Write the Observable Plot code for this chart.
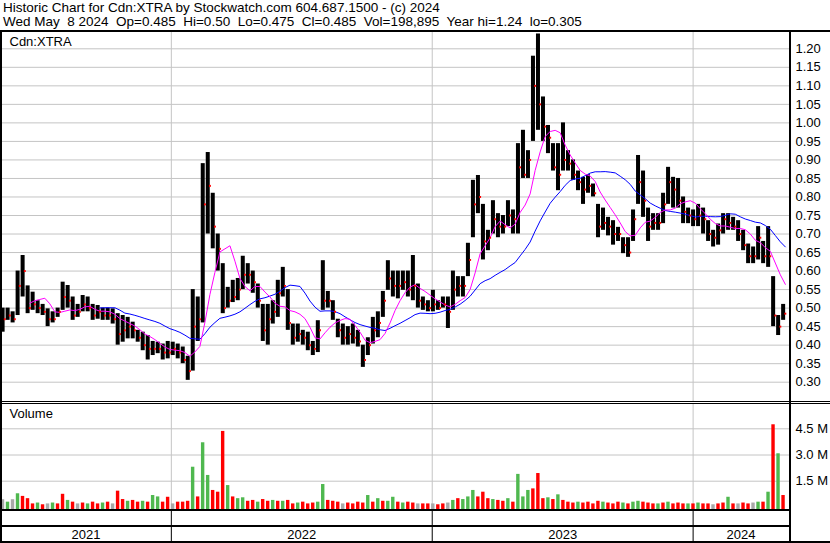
<!DOCTYPE html>
<html><head><meta charset="utf-8">
<script src="https://cdn.jsdelivr.net/npm/d3@7"></script>
<script src="https://cdn.jsdelivr.net/npm/@observablehq/plot@0.6"></script>
<style>
body{margin:0;background:#fff;}
#chart{position:relative;width:830px;height:543px;font-family:"Liberation Sans",Arial,sans-serif;color:#000;overflow:hidden;background:#fff}
.hdr{position:absolute;left:3px;font-size:13.5px;white-space:pre;line-height:14px}
.ln{position:absolute;background:#000}
.panel{position:absolute;left:0}
</style></head><body><div id="chart"></div>
<script>
// ---- data (weekly) ----
const firstWeek = "2021-05-07";
const xDomain = ["2021-05-07", "2024-05-14"];
const hi = [.50,.50,.49,.60,.642,.56,.543,.52,.51,.498,
 .49,.50,.57,.561,.53,.51,.534,.53,.51,.507,
 .50,.50,.498,.485,.48,.475,.462,.44,.435,.426,
 .41,.408,.403,.41,.408,.403,.395,.37,.55,.53,
 .89,.92,.81,.70,.62,.556,.575,.58,.64,.62,
 .60,.565,.51,.51,.52,.575,.61,.55,.457,.457,
 .44,.435,.41,.466,.628,.545,.52,.47,.457,.45,
 .457,.44,.40,.42,.475,.49,.545,.628,.60,.60,
 .60,.60,.642,.565,.53,.52,.548,.52,.53,.53,
 .60,.585,.585,.675,.845,.858,.78,.71,.79,.755,
 .75,.79,.765,.944,.98,.925,1.18,1.24,1.07,.993,
 .944,.944,1.0,.925,.90,.87,.853,.86,.835,.78,
 .77,.745,.736,.718,.69,.69,.765,.912,.87,.77,
 .755,.755,.81,.88,.853,.85,.80,.77,.765,.78,
 .77,.736,.71,.727,.755,.755,.745,.736,.71,.673,
 .665,.72,.68,.72,.585,.48,.51];
const lo = [.435,.467,.46,.48,.53,.485,.494,.485,.48,.45,
 .46,.475,.494,.50,.467,.475,.49,.49,.467,.47,
 .467,.467,.457,.40,.408,.417,.417,.408,.385,.36,
 .372,.377,.36,.363,.372,.363,.35,.305,.33,.41,
 .46,.70,.66,.60,.485,.50,.515,.52,.55,.565,
 .54,.50,.41,.40,.457,.475,.53,.44,.40,.408,
 .40,.385,.372,.38,.494,.50,.467,.42,.40,.40,
 .403,.395,.34,.372,.403,.42,.475,.548,.53,.525,
 .548,.53,.52,.50,.494,.49,.49,.494,.50,.445,
 .494,.53,.53,.585,.69,.755,.63,.655,.70,.69,
 .70,.72,.70,.70,.85,.85,.95,.98,.95,.917,
 .87,.817,.87,.87,.845,.817,.78,.81,.80,.69,
 .71,.695,.67,.68,.647,.637,.68,.78,.745,.68,
 .71,.71,.728,.78,.77,.77,.728,.728,.72,.72,
 .70,.68,.665,.67,.70,.71,.71,.68,.655,.62,
 .62,.63,.62,.61,.45,.426,.467];
const cl = [.47,.48,.47,.56,.60,.50,.51,.50,.49,.47,
 .47,.49,.53,.52,.48,.49,.51,.50,.48,.49,
 .48,.48,.47,.43,.44,.45,.44,.42,.40,.39,
 .39,.39,.38,.38,.39,.38,.36,.33,.45,.47,
 .78,.83,.72,.66,.50,.52,.53,.55,.59,.59,
 .57,.52,.44,.47,.49,.54,.56,.46,.42,.43,
 .42,.40,.39,.44,.52,.52,.49,.44,.42,.43,
 .42,.41,.36,.40,.44,.46,.52,.58,.56,.56,
 .57,.55,.56,.52,.51,.50,.51,.50,.51,.49,
 .55,.56,.56,.63,.78,.80,.68,.69,.74,.72,
 .72,.75,.74,.88,.86,.90,1.10,1.05,.99,.96,
 .88,.86,.90,.89,.86,.84,.82,.83,.81,.72,
 .73,.72,.70,.70,.67,.65,.74,.84,.79,.72,
 .73,.73,.78,.84,.82,.79,.76,.75,.74,.75,
 .74,.70,.69,.71,.74,.73,.72,.70,.67,.64,
 .64,.69,.64,.64,.48,.45,.485];
// volume in millions (largest day of each week)
const vol = [.44,.3,.44,.78,.63,.5,.2,.25,.15,.2,
 .25,.2,.75,.4,.3,.2,.25,.2,.3,.2,
 .25,.3,.2,.93,.45,.35,.4,.3,.35,.3,
 .68,.6,.3,.58,.2,.3,.3,.35,2.3,.6,
 3.7,1.83,.97,.87,4.35,1.25,.6,.5,.55,.35,
 .4,.3,.45,.35,.4,.35,.35,.4,.2,.25,
 .3,.2,.25,.3,1.31,.4,.35,.3,.2,.25,
 .2,.3,.25,.68,.3,.5,.35,.35,.58,.3,
 .25,.3,.25,.2,.2,.2,.2,.15,.2,.25,
 .4,.5,.45,.6,.97,.6,.87,.5,.45,.4,
 .35,.5,.3,1.89,.6,.97,1.06,1.94,.5,.55,
 .45,.72,.4,.3,.25,.3,.25,.3,.2,.35,
 .3,.25,.2,.3,.25,.2,.3,.35,.3,.25,
 .2,.2,.25,.3,.2,.25,.2,.2,.2,.25,
 .2,.2,.15,.2,.25,.58,.2,.2,.25,.2,
 .25,.3,.3,.87,4.73,3.07,.68];
// g = up, r = down, n = unchanged
const volDir = "ngngrrrgrn" + "grrgrnrgrr" + "grnrrgrrgr" + "ggrrnrrrgr" + "ggrrrgrggr" +
 "rgrrgrgrrg" + "rrrggrrrnr" + "rrrgrgrggr" + "grrnrrnrrn" + "grgggrrrgr" +
 "rgrgggrrrg" + "rgrrrgrrrr" + "grrrgrggrr" + "rgrgrrrgrg" + "rrnrrgrnrr" + "ngrgrgr";
const priceTicks = [0.30,0.35,0.40,0.45,0.50,0.55,0.60,0.65,0.70,0.75,0.80,0.85,0.90,0.95,1.00,1.05,1.10,1.15,1.20];
const volTicks = [1.5, 3.0, 4.5];
const volTickLabels = ["1.5 M", "3.0 M", "4.5 M"];
const years = [2021, 2022, 2023, 2024];
const headerLines = [
  "Historic Chart for Cdn:XTRA by Stockwatch.com 604.687.1500 - (c) 2024",
  "Wed May  8 2024  Op=0.485  Hi=0.50  Lo=0.475  Cl=0.485  Vol=198,895  Year hi=1.24  lo=0.305"
];
const symbolLabel = "Cdn:XTRA";
const volumeLabel = "Volume";
const volColors = {g: "#4fb84f", r: "#ff0000", n: "#a8a8a8"};

// ---- build ----
const t0 = new Date(firstWeek);
const weeks = hi.map((h, i) => ({
  start: d3.utcDay.offset(t0, 7 * i),
  end: d3.utcDay.offset(t0, 7 * i + 7),
  closeDay: d3.utcDay.offset(t0, 7 * i + 6),
  hi: h, lo: lo[i], cl: cl[i], vol: vol[i], dir: volDir[i]
}));
const dom = xDomain.map(d => new Date(d));
const yearStarts = years.slice(1).map(y => new Date(Date.UTC(y, 0, 1)));
const yearLabels = years.map(y => {
  const a = Math.max(+dom[0], Date.UTC(y, 0, 1)), b = Math.min(+dom[1], Date.UTC(y + 1, 0, 1));
  return {mid: new Date((a + b) / 2), label: String(y)};
});
const xOpt = {type: "utc", domain: dom, range: [0, 788.4], axis: null};
const style = {fontFamily: "Liberation Sans, Arial, sans-serif", fontSize: "13px", color: "#000", background: "none", overflow: "visible"};
const common = {width: 830, marginLeft: 2, marginRight: 41, marginTop: 0, marginBottom: 0, style};

const price = Plot.plot({
  ...common, height: 369,
  x: xOpt,
  y: {domain: [0.30, 1.20], range: [349.7, 16.3], axis: null},
  marks: [
    Plot.ruleY(priceTicks, {stroke: "#c4c4c4"}),
    Plot.ruleX(yearStarts, {stroke: "#c4c4c4"}),
    Plot.rect(weeks, {x1: "start", x2: "end", y1: "lo", y2: "hi", fill: "#000", insetLeft: 0.6, insetRight: 0.4}),
    Plot.lineY(weeks, Plot.windowY({k: 20, anchor: "end", strict: true, reduce: "mean"}, {x: "closeDay", y: "cl", stroke: "#0000ff", strokeWidth: 1})),
    Plot.lineY(weeks, Plot.windowY({k: 6, anchor: "end", strict: true, reduce: "mean"}, {x: "closeDay", y: "cl", stroke: "#ff00ff", strokeWidth: 1})),
    Plot.dot(weeks, {x: "closeDay", y: "cl", r: 1.1, symbol: "square", fill: "#ff0000", stroke: null}),
    Plot.axisY(priceTicks, {anchor: "right", label: null, tickSize: 0, tickPadding: 6, tickFormat: d3.format(".2f"), fontSize: 13}),
    Plot.text([symbolLabel], {frameAnchor: "top-left", lineAnchor: "middle", dx: 7, dy: 9.5, textAnchor: "start", fontSize: 13})
  ]
});

const volume = Plot.plot({
  ...common, height: 105,
  x: xOpt,
  y: {domain: [0, 4.5], range: [102.9, 24.3], axis: null},
  color: {type: "identity"},
  marks: [
    Plot.ruleY(volTicks, {stroke: "#c4c4c4"}),
    Plot.ruleX(yearStarts, {stroke: "#c4c4c4"}),
    Plot.rect(weeks, {x1: "start", x2: "end", y1: 0, y2: "vol", fill: d => volColors[d.dir], insetLeft: 0.8, insetRight: 0.8, insetBottom: -3}),
    Plot.axisY(volTicks, {anchor: "right", label: null, tickSize: 0, tickPadding: 6, tickFormat: d => volTickLabels[volTicks.indexOf(d)], fontSize: 13}),
    Plot.text([volumeLabel], {frameAnchor: "top-left", lineAnchor: "middle", dx: 7, dy: 9.5, textAnchor: "start", fontSize: 13})
  ]
});

const axis = Plot.plot({
  ...common, height: 34,
  x: xOpt,
  y: {domain: [0, 1], axis: null},
  marks: [
    Plot.ruleX(yearStarts, {stroke: "#000"}),
    Plot.text(yearLabels, {x: "mid", text: "label", frameAnchor: "top", lineAnchor: "middle", dy: 25.5, fontSize: 13})
  ]
});

const chart = document.getElementById("chart");
function place(node, top) { node.classList.add("panel"); node.style.top = top + "px"; chart.appendChild(node); }
place(price, 32);
place(volume, 404);
place(axis, 509);
headerLines.forEach((t, i) => {
  const d = document.createElement("div"); d.className = "hdr"; d.textContent = t; d.style.top = (1.3 + 13.5 * i) + "px"; chart.appendChild(d);
});
// frame lines
const lines = [
  [0, 30, 830, 2], [0, 401, 830, 1], [0, 403, 830, 1], [0, 509, 791, 2], [0, 525, 791, 2], [0, 541, 830, 2],
  [0, 30, 2, 513], [789, 30, 2, 513]
];
lines.forEach(([l, t, w, h]) => {
  const d = document.createElement("div"); d.className = "ln";
  Object.assign(d.style, {left: l + "px", top: t + "px", width: w + "px", height: h + "px"});
  chart.appendChild(d);
});
</script></body></html>
